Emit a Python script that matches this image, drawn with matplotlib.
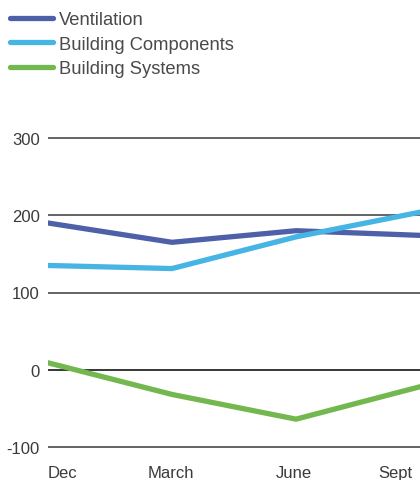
import matplotlib.pyplot as plt

plt.rcParams["font.family"] = ["Liberation Sans", "DejaVu Sans"]
plt.rcParams["axes.unicode_minus"] = False

months = ["Dec", "March", "June", "Sept"]
ventilation = [190, 165, 180, 174]
building_components = [135, 131, 172, 204]
building_systems = [9, -32, -64, -22]

series = [
    ("Ventilation", ventilation, "#4e60a8"),
    ("Building Components", building_components, "#46b4e4"),
    ("Building Systems", building_systems, "#73b74f"),
]

fig = plt.figure(figsize=(4.2, 4.81), dpi=100)
ax = fig.add_axes([48 / 420, (481 - 449.5) / 481, 1 - 48 / 420, 312 / 481])

x = range(len(months))
handles = []
for name, vals, color in series:
    (h,) = ax.plot(x, vals, color=color, lw=3.8, solid_capstyle="round",
                   solid_joinstyle="round", label=name, zorder=3)
    handles.append(h)

for yv in [-100, 0, 100, 200, 300]:
    ax.axhline(yv, color="black" if yv == 0 else "#3a3a3a", lw=1.1, zorder=1)

ax.set_xlim(0, 3)
ax.set_ylim(-102, 302)
ax.set_yticks([-100, 0, 100, 200, 300])
ax.tick_params(axis="y", length=0, pad=6, labelsize=12, labelcolor="#3a3a3a")
ax.set_xticks([])
for s in ax.spines.values():
    s.set_visible(False)

# month labels under the axis
label_pos = [0, 0.99, 1.98, 2.8]
aligns = ["left", "center", "center", "center"]
for lab, xp, ha in zip(months, label_pos, aligns):
    ax.text(xp, -133, lab, ha=ha, va="center", fontsize=12, color="#3a3a3a")

fig.legend(handles=handles, loc="upper left",
           bbox_to_anchor=(4 / 420, 1 - 6 / 481),
           frameon=False, fontsize=13.2, handlelength=2.3, handletextpad=0.35,
           labelspacing=0.4, borderaxespad=0.0, borderpad=0.35,
           labelcolor="#4a4a4a")

fig.savefig("out.png", dpi=100)
